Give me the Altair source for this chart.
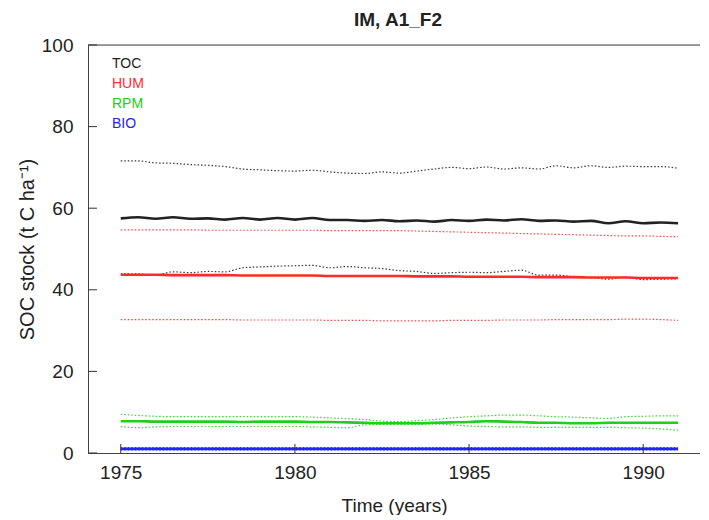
import altair as alt
import pandas as pd

years = [1975.0, 1975.5, 1976.0, 1976.5, 1977.0, 1977.5, 1978.0, 1978.5, 1979.0, 1979.5,
         1980.0, 1980.5, 1981.0, 1981.5, 1982.0, 1982.5, 1983.0, 1983.5, 1984.0, 1984.5,
         1985.0, 1985.5, 1986.0, 1986.5, 1987.0, 1987.5, 1988.0, 1988.5, 1989.0, 1989.5,
         1990.0, 1990.5, 1991.0]

toc_mean = [57.5, 57.8, 57.4, 57.8, 57.4, 57.5, 57.2, 57.6, 57.2, 57.6, 57.2, 57.6, 57.1, 57.1,
            56.9, 57.1, 56.8, 57.0, 56.7, 57.1, 56.9, 57.2, 57.0, 57.3, 56.9, 57.0, 56.7, 56.9,
            56.3, 56.8, 56.3, 56.5, 56.3]
toc_upper = [71.6, 71.6, 71.1, 71.0, 70.7, 70.5, 70.2, 69.6, 69.4, 69.2, 69.1, 69.3, 68.9, 68.6,
             68.5, 68.9, 68.6, 69.1, 69.6, 70.0, 69.7, 70.1, 69.6, 69.9, 69.6, 70.4, 69.9, 70.4,
             70.0, 70.3, 70.2, 70.2, 69.8]
toc_lower = [43.9, 43.9, 43.6, 44.4, 44.2, 44.5, 44.4, 45.4, 45.6, 45.8, 45.9, 46.0, 45.4, 45.7,
             45.4, 45.2, 44.7, 44.5, 44.0, 44.2, 44.3, 44.2, 44.5, 44.8, 43.6, 43.6, 43.2, 43.0,
             42.6, 43.1, 42.5, 42.6, 42.7]

hum_mean = [43.7, 43.7, 43.7, 43.6, 43.6, 43.6, 43.6, 43.5, 43.5, 43.5, 43.5, 43.5, 43.4, 43.4,
            43.4, 43.4, 43.4, 43.3, 43.3, 43.3, 43.2, 43.2, 43.2, 43.2, 43.1, 43.1, 43.1, 43.0,
            43.0, 43.0, 42.9, 42.9, 42.9]
hum_upper = [54.7, 54.7, 54.7, 54.7, 54.7, 54.6, 54.6, 54.6, 54.6, 54.6, 54.6, 54.6, 54.5, 54.5,
             54.5, 54.5, 54.5, 54.4, 54.3, 54.2, 54.1, 54.0, 53.9, 53.8, 53.7, 53.6, 53.5, 53.4,
             53.3, 53.2, 53.2, 53.1, 53.0]
hum_lower = [32.7, 32.7, 32.7, 32.7, 32.7, 32.7, 32.7, 32.6, 32.6, 32.6, 32.6, 32.6, 32.5, 32.5,
             32.5, 32.4, 32.4, 32.4, 32.4, 32.5, 32.5, 32.5, 32.6, 32.6, 32.6, 32.7, 32.7, 32.7,
             32.7, 32.8, 32.8, 32.7, 32.5]

rpm_mean = [7.8, 7.8, 7.7, 7.7, 7.7, 7.7, 7.7, 7.6, 7.7, 7.7, 7.7, 7.6, 7.6, 7.5, 7.4, 7.3, 7.3,
            7.3, 7.4, 7.5, 7.6, 7.8, 7.7, 7.6, 7.4, 7.4, 7.3, 7.3, 7.4, 7.4, 7.4, 7.4, 7.4]
rpm_upper = [9.5, 9.2, 9.0, 8.9, 8.9, 8.9, 8.9, 8.9, 8.9, 8.9, 8.9, 8.8, 8.6, 8.4, 8.2, 7.8, 7.7,
             7.9, 8.2, 8.6, 8.9, 9.1, 9.3, 9.3, 9.1, 8.9, 8.8, 8.6, 8.5, 8.9, 9.0, 9.1, 9.1]
rpm_lower = [6.5, 6.2, 6.4, 6.5, 6.5, 6.5, 6.5, 6.5, 6.5, 6.5, 6.5, 6.4, 6.3, 6.2, 6.9, 7.0, 7.0,
             7.0, 7.1, 6.9, 6.6, 6.5, 6.4, 6.4, 6.3, 6.3, 6.3, 6.3, 6.3, 6.2, 6.1, 5.9, 5.6]

bio_mean = [1.0, 1.0, 1.0, 1.0, 1.0, 1.0, 1.0, 1.0, 1.0, 1.0, 1.0, 1.0, 1.0, 1.0, 1.0, 1.0, 1.0,
            1.0, 1.0, 1.0, 1.0, 1.0, 1.0, 1.0, 1.0, 1.0, 1.0, 1.0, 1.0, 1.0, 1.0, 1.0, 1.0]
bio_upper = [1.3, 1.3, 1.3, 1.3, 1.3, 1.3, 1.3, 1.3, 1.3, 1.3, 1.3, 1.3, 1.3, 1.3, 1.3, 1.3, 1.3,
             1.3, 1.3, 1.3, 1.3, 1.3, 1.3, 1.3, 1.3, 1.3, 1.3, 1.3, 1.3, 1.3, 1.3, 1.3, 1.3]
bio_lower = [0.75, 0.75, 0.75, 0.75, 0.75, 0.75, 0.75, 0.75, 0.75, 0.75, 0.75, 0.75, 0.75, 0.75,
             0.75, 0.75, 0.75, 0.75, 0.75, 0.75, 0.75, 0.75, 0.75, 0.75, 0.75, 0.75, 0.75, 0.75,
             0.75, 0.75, 0.75, 0.75, 0.75]

pools = ["TOC", "HUM", "RPM", "BIO"]
pool_colors = ["#222222", "#ff2a2a", "#22cc22", "#2222ff"]
x_ticks = [1975, 1980, 1985, 1990]
y_ticks = [0, 20, 40, 60, 80, 100]
chart_title = "IM, A1_F2"

series = {
    "TOC": (toc_mean, toc_upper, toc_lower),
    "HUM": (hum_mean, hum_upper, hum_lower),
    "RPM": (rpm_mean, rpm_upper, rpm_lower),
    "BIO": (bio_mean, bio_upper, bio_lower),
}
rows = []
for pool, (m, u, l) in series.items():
    for kind, vals in (("mean", m), ("upper", u), ("lower", l)):
        for yr, v in zip(years, vals):
            rows.append({"year": yr, "value": v, "pool": pool, "kind": kind,
                         "key": pool + "_" + kind})
df = pd.DataFrame(rows)

W, H = 612, 408
FONT = "Liberation Sans"

xscale = alt.Scale(domain=[1974.06, 1991.63], nice=False, zero=False)
yscale = alt.Scale(domain=[0, 100], nice=False)
cscale = alt.Scale(domain=pools, range=pool_colors)

base = alt.Chart(df)

dotted = base.transform_filter(alt.datum.kind != "mean").mark_line(
    strokeWidth=1.2, strokeDash=[1.5, 2], interpolate="monotone", opacity=0.9
).encode(
    x=alt.X("year:Q", scale=xscale,
            axis=alt.Axis(values=x_ticks, format="d", ticks=False, grid=False,
                          domainColor="#444", labelPadding=10, labelFontSize=19,
                          labelFont=FONT, labelColor="#222", title="Time (years)",
                          titleFont=FONT, titleFontSize=19, titleFontWeight="normal",
                          titleColor="#222", titlePadding=14)),
    y=alt.Y("value:Q", scale=yscale,
            axis=alt.Axis(values=y_ticks, ticks=False, grid=False, domainColor="#444",
                          labelPadding=15, labelFontSize=19, labelFont=FONT,
                          labelColor="#222", title="SOC stock (t C ha\u207b\u00b9)",
                          titleFont=FONT, titleFontSize=20, titleFontWeight="normal",
                          titleColor="#222", titlePadding=4)),
    color=alt.Color("pool:N", scale=cscale, legend=None),
    detail="key:N",
)

solid = base.transform_filter(alt.datum.kind == "mean").mark_line(
    strokeWidth=2.6, interpolate="monotone"
).encode(
    x=alt.X("year:Q", scale=xscale),
    y=alt.Y("value:Q", scale=yscale),
    color=alt.Color("pool:N", scale=cscale, legend=None),
    detail="key:N",
)

top_line = alt.Chart(pd.DataFrame({"v": [100]})).mark_rule(color="#444", strokeWidth=1).encode(
    y=alt.Y("v:Q", scale=yscale)
)

xtick = alt.Chart(pd.DataFrame({"t": x_ticks})).mark_rule(color="#333", strokeWidth=1).encode(
    x=alt.X("t:Q", scale=xscale), y=alt.value(H - 9), y2=alt.value(H)
)
ytick = alt.Chart(pd.DataFrame({"t": y_ticks})).mark_rule(color="#333", strokeWidth=1).encode(
    y=alt.Y("t:Q", scale=yscale), x=alt.value(0), x2=alt.value(9)
)

legend_layers = []
for i, (p, c) in enumerate(zip(pools, pool_colors)):
    legend_layers.append(
        alt.Chart(pd.DataFrame({"label": [p]})).mark_text(
            align="left", baseline="middle", font=FONT, fontSize=14, color=c
        ).encode(text="label:N", x=alt.value(24), y=alt.value(19 + 20 * i))
    )

title_mark = alt.Chart(pd.DataFrame({"label": [chart_title]})).mark_text(
    align="center", baseline="middle", font=FONT, fontSize=19, fontWeight="bold", color="#222"
).encode(text="label:N", x=alt.value(310), y=alt.value(-25))

chart = alt.layer(dotted, solid, top_line, xtick, ytick, *legend_layers, title_mark).properties(
    width=W, height=H,
    autosize=alt.AutoSizeParams(type="none"),
    padding={"left": 80, "top": 37, "right": 0, "bottom": 62},
).configure_view(stroke=None).configure(background="white")

chart.save("out.html", embed_options={"renderer": "svg", "actions": False})
